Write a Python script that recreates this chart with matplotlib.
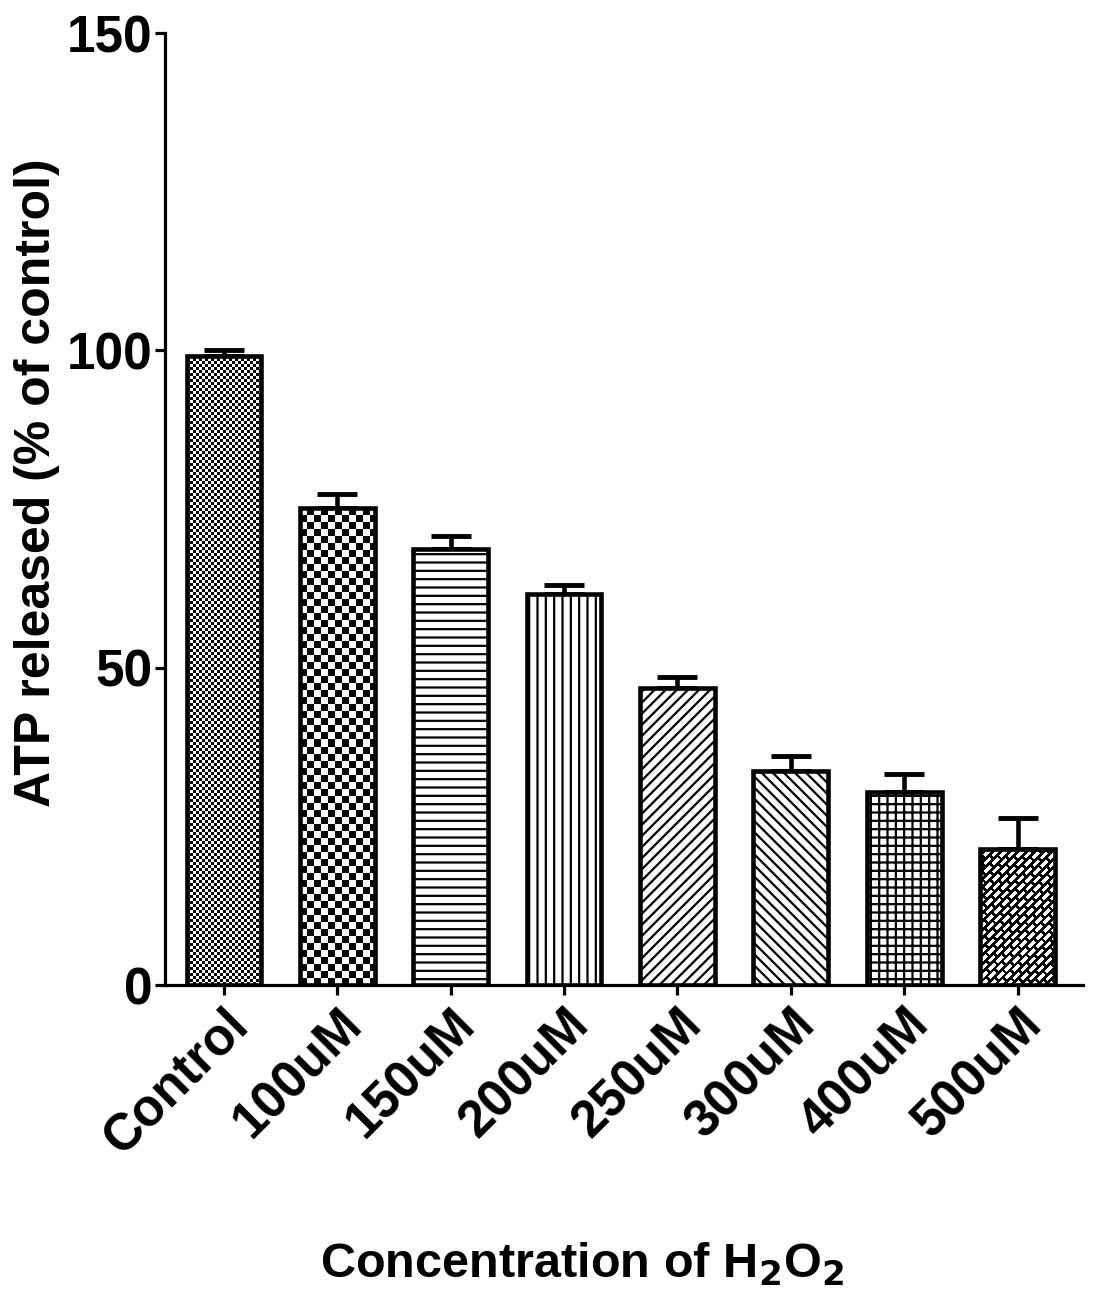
import numpy as np
import matplotlib
matplotlib.use("Agg")
import matplotlib.pyplot as plt

# data
groups = ["Control", "100uM", "150uM", "200uM", "250uM", "300uM", "400uM", "500uM"]
atp_mean = [99.1, 75.2, 68.7, 61.6, 46.8, 33.7, 30.4, 21.4]
atp_sem = [0.9, 2.2, 2.0, 1.5, 1.8, 2.4, 2.8, 4.9]
hatches = [None, None, "--", "||", "///", "\\\\\\", "++", None]

plt.rcParams["font.family"] = ["Liberation Sans", "DejaVu Sans"]
plt.rcParams["font.weight"] = "bold"
plt.rcParams["hatch.linewidth"] = 1.6

fig = plt.figure(figsize=(10.97, 12.9), dpi=100)
ax = fig.add_axes([0.1504, 0.2364, 0.8366, 0.738])

x = np.arange(len(groups))
bars = ax.bar(x, atp_mean, width=0.66, color="white", edgecolor="black",
              linewidth=3.3, zorder=3)
for b, h in zip(bars, hatches):
    if h:
        b.set_hatch(h)

ax.errorbar(x, atp_mean, yerr=[np.zeros(len(x)), atp_sem], fmt="none",
            ecolor="black", elinewidth=3.3, capsize=14.5, capthick=3.5, zorder=2)

ax.set_xlim(-0.52, 7.575)
ax.set_ylim(0, 150)
ax.set_yticks([0, 50, 100, 150])
fig.canvas.draw()


def checker(nx, ny, cell):
    yy, xx = np.mgrid[0:ny, 0:nx]
    return ((xx // cell + yy // cell) % 2).astype(float)


def bricks(nx, ny):
    yy, xx = np.mgrid[0:ny, 0:nx].astype(float)
    u = (xx + yy) / np.sqrt(2)
    v = (xx - yy) / np.sqrt(2)
    P, L = 6.0, 11.0
    row = np.floor(v / P)
    inrow = (v % P) < 3.2
    uu = (u + (row % 2) * L / 2) % L
    white = inrow & (uu < L - 2.6)
    return white.astype(float)


# textured fills (checkerboards, bricks)
for i, kind in [(0, "fine"), (1, "coarse"), (7, "brick")]:
    b = bars[i]
    x0, y0 = b.get_x(), 0
    x1, y1 = x0 + b.get_width(), b.get_height()
    p0 = ax.transData.transform((x0, y0))
    p1 = ax.transData.transform((x1, y1))
    nx = int(round(p1[0] - p0[0]))
    ny = int(round(p1[1] - p0[1]))
    if kind == "fine":
        tex = checker(nx, ny, 3)
    elif kind == "coarse":
        tex = checker(nx, ny, 7)
    else:
        tex = bricks(nx, ny)
    im = ax.imshow(tex, cmap="gray", extent=(x0, x1, y0, y1), aspect="auto",
                   interpolation="nearest", zorder=2.5, origin="lower",
                   vmin=0, vmax=1)
    im.set_clip_path(b)
    b.set_facecolor("none")
ax.set_xlim(-0.52, 7.575)
ax.set_ylim(0, 150)

ax.spines["top"].set_visible(False)
ax.spines["right"].set_visible(False)
ax.spines["left"].set_linewidth(2.3)
ax.spines["bottom"].set_linewidth(2.3)
ax.tick_params(axis="both", direction="out", length=7, width=2.3, labelsize=37)
ax.tick_params(axis="y", pad=2)
ax.set_xticks(x)
ax.set_xticklabels(groups, rotation=45, ha="right", rotation_mode="anchor",
                   fontweight="bold")
for lab in ax.get_yticklabels():
    lab.set_fontweight("bold")

ax.set_ylabel("ATP released (% of control)", fontsize=36, fontweight="bold",
              va="center")
ax.yaxis.set_label_coords(-0.139, 0.528)
fig.text(0.5305, 0.0093, r"Concentration of H$_\mathbf{2}$O$_\mathbf{2}$",
         ha="center", va="baseline", fontsize=35, fontweight="bold")

fig.savefig("out.png", dpi=100)
plt.close()
